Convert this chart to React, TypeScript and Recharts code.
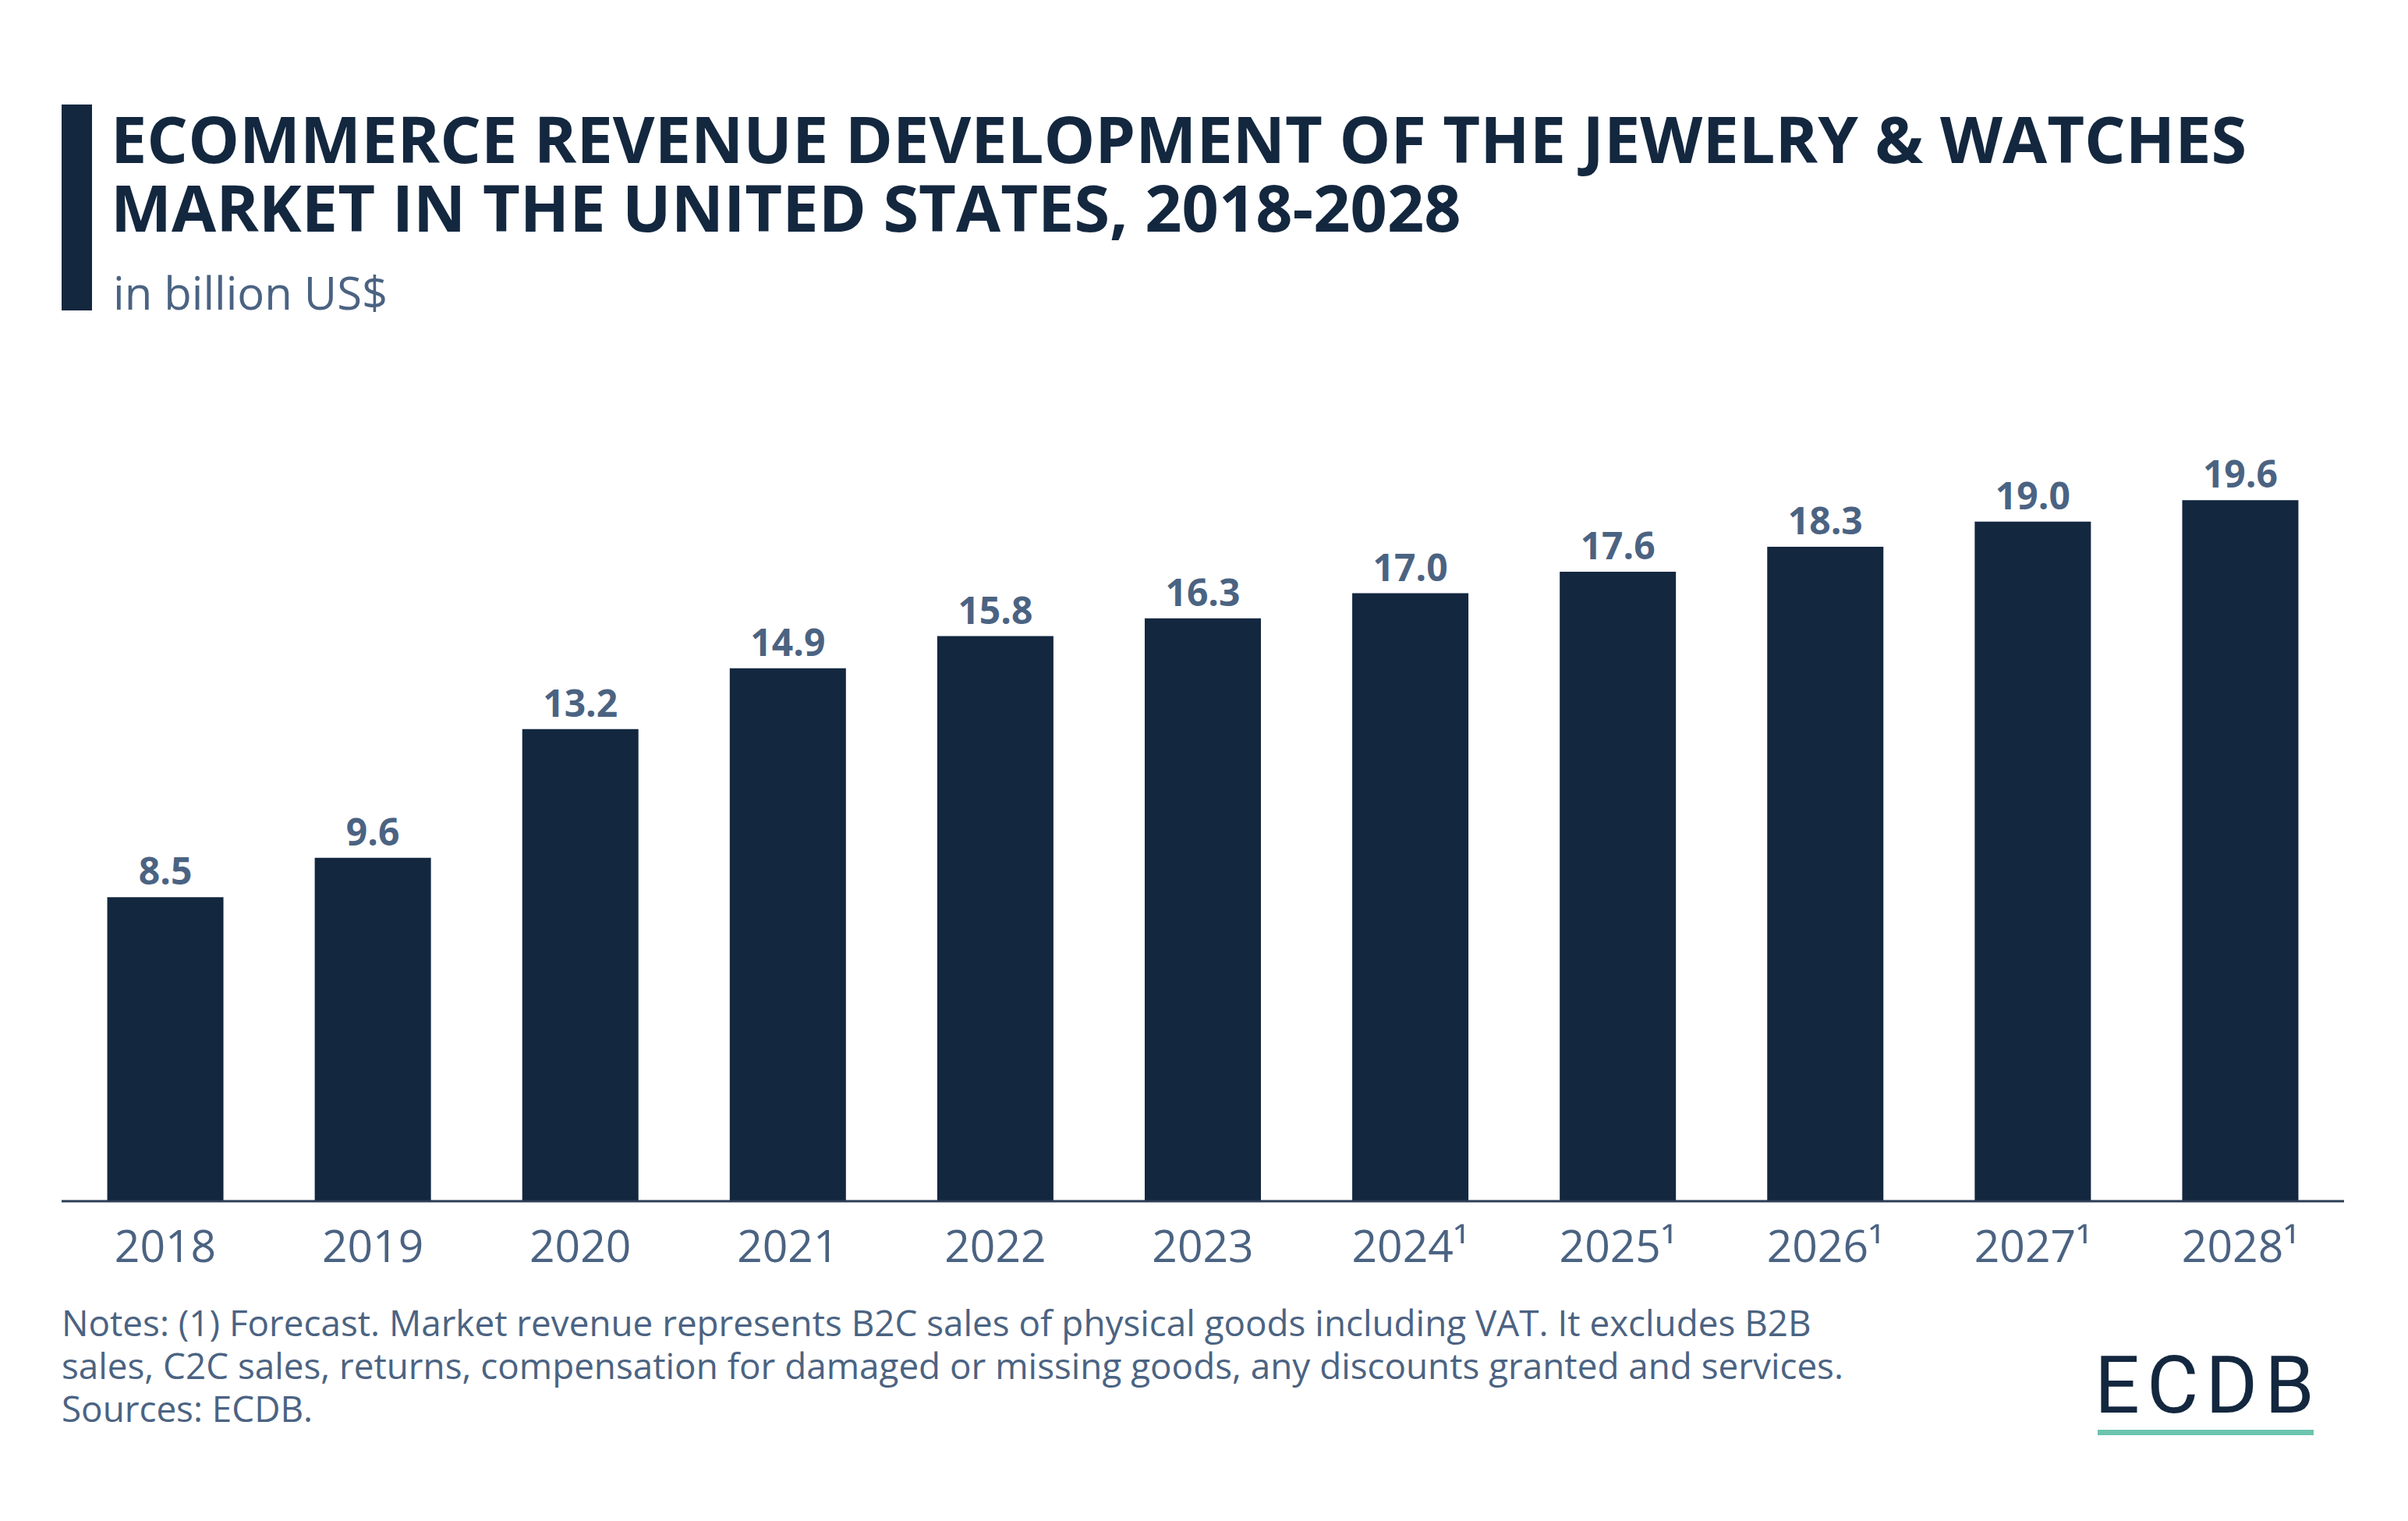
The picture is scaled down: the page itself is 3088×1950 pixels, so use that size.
import React from 'react';
import { BarChart, Bar, XAxis, YAxis, LabelList } from 'recharts';

const years: string[] = ['2018', '2019', '2020', '2021', '2022', '2023', '2024¹', '2025¹', '2026¹', '2027¹', '2028¹'];
const revenue: number[] = [8.5, 9.6, 13.2, 14.9, 15.8, 16.3, 17.0, 17.6, 18.3, 19.0, 19.6];

const data = years.map((year, i) => ({ year, revenue: revenue[i] }));

const NAVY = '#13273f';
const SLATE = '#4b6382';
const FONT = '"Open Sans", "Noto Sans", sans-serif';

const App: React.FC = () => {
  return (
    <div style={{ position: 'absolute', left: 0, top: 0, width: 3088, height: 1950, background: '#fff', fontFamily: FONT, overflow: 'hidden' }}>
      {/* title block */}
      <div style={{ position: 'absolute', left: 79, top: 134, width: 39, height: 264, background: NAVY }} />
      <div style={{ position: 'absolute', left: 142, top: 133, fontSize: 82.8, lineHeight: '88px', fontWeight: 700, color: NAVY, whiteSpace: 'nowrap' }}>
        <div>ECOMMERCE REVENUE DEVELOPMENT OF THE JEWELRY &amp; WATCHES</div>
        <div>MARKET IN THE UNITED STATES, 2018-2028</div>
      </div>
      <div style={{ position: 'absolute', left: 145, top: 341, fontSize: 58, lineHeight: '68px', color: SLATE, whiteSpace: 'nowrap' }}>
        in billion US$
      </div>

      <div style={{ position: 'absolute', left: 0, top: 0 }}>
        <BarChart width={3088} height={1650} data={data} margin={{ top: 623, right: 82, bottom: 10, left: 79 }} barCategoryGap="22%">
          <XAxis
            dataKey="year"
            height={100}
            tickSize={0}
            tickMargin={38}
            axisLine={{ stroke: '#2b3d55', strokeWidth: 3 }}
            tick={{ fill: SLATE, fontSize: 57, fontFamily: FONT }}
            interval={0}
          />
          <YAxis hide domain={[0, 20]} type="number" />
          <Bar dataKey="revenue" fill={NAVY} isAnimationActive={false}>
            <LabelList
              dataKey="revenue"
              position="top"
              offset={16}
              formatter={(v: number) => v.toFixed(1)}
              style={{ fill: SLATE, fontSize: 48, fontWeight: 700, fontFamily: FONT }}
            />
          </Bar>
        </BarChart>
      </div>

      {/* footnote */}
      <div style={{ position: 'absolute', left: 79, top: 1668, fontSize: 45.8, lineHeight: '55px', color: SLATE, whiteSpace: 'nowrap' }}>
        <div>Notes: (1) Forecast. Market revenue represents B2C sales of physical goods including VAT. It excludes B2B</div>
        <div>sales, C2C sales, returns, compensation for damaged or missing goods, any discounts granted and services.</div>
        <div>Sources: ECDB.</div>
      </div>

      {/* logo */}
      <div style={{ position: 'absolute', left: 2686, top: 1716, fontSize: 102, lineHeight: '120px', fontFamily: 'Roboto, sans-serif', fontWeight: 400, letterSpacing: 9, color: NAVY }}>
        ECDB
      </div>
      <div style={{ position: 'absolute', left: 2690, top: 1833, width: 277, height: 7, background: '#6cc4ae' }} />
    </div>
  );
};

export default App;
